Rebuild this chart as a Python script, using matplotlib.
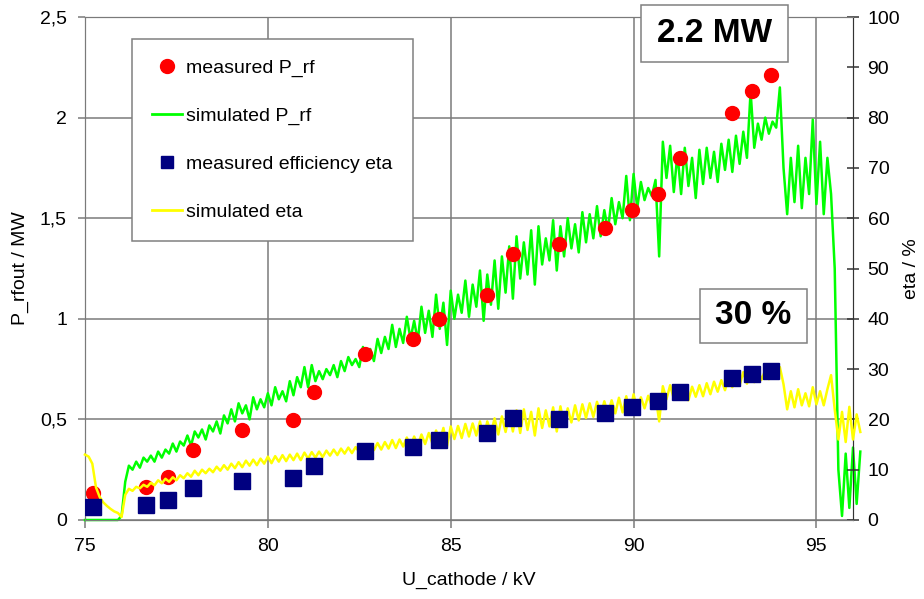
import matplotlib
matplotlib.use("Agg")
import matplotlib.pyplot as plt
import numpy as np
from matplotlib.lines import Line2D
from matplotlib.patches import Rectangle

plt.rcParams['font.family'] = ['Liberation Sans', 'DejaVu Sans']

# measured points (kV, MW) and (kV, %)
meas_kv = [75.22, 76.67, 77.27, 77.95, 79.29, 80.68, 81.26, 82.65, 83.96, 84.67,
           85.98, 86.69, 87.95, 89.23, 89.97, 90.66, 91.26, 92.68, 93.25, 93.77]
meas_prf = [0.134, 0.164, 0.214, 0.348, 0.448, 0.497, 0.637, 0.826, 0.90, 1.00,
            1.12, 1.32, 1.37, 1.45, 1.54, 1.62, 1.80, 2.025, 2.13, 2.21]
meas_eta = [2.6, 3.0, 4.0, 6.4, 7.8, 8.3, 10.7, 13.7, 14.5, 15.9,
            17.3, 20.3, 20.1, 21.3, 22.5, 23.7, 25.4, 28.2, 29.0, 29.6]

# simulated curves, sampled every 0.1 kV from 75.0 kV
sim_start, sim_step = 75.0, 0.1
sim_prf = [
    0, 0, 0, 0, 0, 0, 0, 0, 0, 0,
    0.02, 0.19, 0.27, 0.25, 0.29, 0.26, 0.31, 0.29, 0.32, 0.29,
    0.34, 0.31, 0.35, 0.33, 0.38, 0.34, 0.39, 0.37, 0.42, 0.37,
    0.44, 0.41, 0.45, 0.40, 0.47, 0.44, 0.49, 0.43, 0.52, 0.48,
    0.55, 0.49, 0.58, 0.53, 0.57, 0.50, 0.61, 0.55, 0.60, 0.56,
    0.63, 0.57, 0.66, 0.60, 0.64, 0.59, 0.69, 0.62, 0.71, 0.66,
    0.76, 0.66, 0.77, 0.69, 0.74, 0.70, 0.75, 0.72, 0.77, 0.71,
    0.79, 0.74, 0.81, 0.77, 0.80, 0.76, 0.86, 0.80, 0.85, 0.79,
    0.90, 0.83, 0.91, 0.85, 0.97, 0.86, 0.95, 0.88, 1.01, 0.90,
    0.99, 0.89, 1.06, 0.93, 1.04, 0.91, 1.12, 0.95, 1.08, 0.87,
    1.14, 1.00, 1.12, 1.03, 1.19, 1.01, 1.17, 1.06, 1.24, 0.99,
    1.22, 1.07, 1.29, 1.05, 1.31, 1.13, 1.36, 1.10, 1.41, 1.20,
    1.38, 1.22, 1.44, 1.17, 1.46, 1.27, 1.40, 1.29, 1.49, 1.24,
    1.46, 1.31, 1.50, 1.35, 1.47, 1.33, 1.53, 1.38, 1.52, 1.40,
    1.56, 1.41, 1.54, 1.44, 1.60, 1.47, 1.58, 1.50, 1.71, 1.49,
    1.72, 1.55, 1.68, 1.59, 1.65, 1.61, 1.69, 1.31, 1.88, 1.70,
    1.86, 1.63, 1.82, 1.62, 1.85, 1.66, 1.80, 1.60, 1.84, 1.67,
    1.85, 1.70, 1.83, 1.68, 1.87, 1.74, 1.89, 1.73, 1.91, 1.77,
    1.93, 1.80, 2.13, 1.85, 1.97, 1.89, 2.00, 1.92, 1.98, 1.95,
    2.15, 1.75, 1.52, 1.80, 1.58, 1.86, 1.55, 1.80, 1.62, 1.99,
    1.57, 1.88, 1.52, 1.80, 1.62, 1.25, 0.25, 0.02, 0.33, 0.06,
    0.36, 0.08, 0.34,
]
sim_eta = [
    13.0, 12.6, 11.2, 6.5, 4.6, 3.5, 2.8, 2.2, 1.7, 1.4,
    0.6, 5.0, 6.2, 5.8, 6.6, 6.3, 7.0, 6.6, 7.4, 6.9,
    7.9, 7.3, 8.2, 7.6, 8.5, 7.9, 8.9, 8.3, 9.3, 8.6,
    9.8, 8.9, 10.0, 9.3, 10.2, 9.5, 10.6, 9.8, 10.9, 10.0,
    11.2, 10.3, 11.5, 10.5, 11.8, 10.8, 12.0, 10.9, 12.2, 11.2,
    12.6, 11.3, 12.7, 11.6, 12.9, 11.7, 13.0, 11.9, 13.2, 11.9,
    13.4, 12.2, 13.5, 12.4, 13.6, 12.5, 13.8, 12.8, 14.0, 12.9,
    14.2, 13.2, 14.4, 13.3, 14.5, 13.5, 14.8, 13.6, 15.0, 13.9,
    15.3, 14.0, 15.5, 14.2, 15.9, 14.3, 16.0, 14.6, 16.4, 14.6,
    16.6, 14.9, 17.0, 15.1, 17.3, 15.2, 17.8, 15.6, 18.3, 14.7,
    18.6, 16.1, 18.7, 16.3, 19.1, 16.6, 19.2, 16.8, 19.6, 16.2,
    19.6, 17.3, 20.2, 17.0, 20.6, 17.5, 21.0, 17.6, 21.8, 17.3,
    22.0, 17.9, 21.5, 16.8, 22.2, 18.3, 21.8, 18.6, 22.4, 17.6,
    22.6, 18.9, 22.2, 19.4, 22.8, 19.8, 23.0, 20.3, 23.2, 20.5,
    23.5, 20.8, 23.6, 21.1, 23.8, 21.2, 24.3, 21.4, 24.6, 21.0,
    25.0, 21.9, 24.4, 22.2, 24.7, 22.6, 24.8, 19.6, 26.6, 24.0,
    26.8, 24.1, 26.4, 24.2, 26.2, 23.8, 26.5, 24.5, 26.8, 24.6,
    27.2, 25.0, 27.5, 25.5, 27.8, 25.8, 28.4, 26.4, 29.0, 26.8,
    29.4, 27.1, 29.6, 27.4, 29.8, 27.9, 29.8, 28.0, 30.0, 28.4,
    30.4, 27.0, 22.0, 25.6, 22.4, 26.0, 22.8, 25.2, 22.6, 26.4,
    23.0, 25.6, 22.8, 26.0, 28.8, 22.0, 16.0, 21.5, 15.5, 22.5,
    16.0, 21.0, 17.5,
]
sim_kv = np.round(sim_start + sim_step * np.arange(len(sim_prf)), 1)

left_ticks = [0, 0.5, 1, 1.5, 2, 2.5]
left_ticklabels = ['0', '0,5', '1', '1,5', '2', '2,5']
right_ticks = [0, 10, 20, 30, 40, 50, 60, 70, 80, 90, 100]
x_ticks = [75, 80, 85, 90, 95]

grid_c = '#7a7a7a'
fs = 14

fig = plt.figure(figsize=(9.24, 5.99), dpi=100)
ax = fig.add_axes([85 / 924, 1 - 520 / 599, (853 - 85) / 924, (520 - 17) / 599])
ax2 = ax.twinx()

ax.plot(sim_kv, sim_prf, color='#00ff00', lw=1.8, clip_on=False, zorder=3)
ax.plot(meas_kv, meas_prf, 'o', color='#ff0000', ms=10, mec='#ff0000', zorder=4)
ax2.plot(sim_kv, sim_eta, color='#ffff00', lw=1.8, clip_on=False, zorder=3)
ax2.plot(meas_kv, meas_eta, 's', color='#000080', ms=11, mec='#000080', zorder=4)

ax.set_xlim(75, 96)
ax.set_ylim(0, 2.5)
ax2.set_ylim(0, 100)

ax.set_xticks(x_ticks)
ax.set_yticks(left_ticks)
ax.set_yticklabels(left_ticklabels)
ax2.set_yticks(right_ticks)

ax.grid(True, color=grid_c, lw=1.1)
ax.set_axisbelow(True)
for s in ax.spines.values():
    s.set_color(grid_c)
for s in ax2.spines.values():
    s.set_color(grid_c)
ax2.spines['right'].set_color('#333333')

ax.tick_params(axis='x', direction='out', length=6, width=1.1, color=grid_c,
               labelsize=fs, pad=7)
ax.tick_params(axis='y', direction='out', length=5, width=1.1, color=grid_c,
               labelsize=fs, pad=8)
ax2.tick_params(axis='y', direction='inout', length=9, width=1.1, color='#333333',
                labelsize=fs, pad=6)

ax.set_xlabel('U_cathode / kV', fontsize=fs, labelpad=12)
ax.set_ylabel('P_rfout / MW', fontsize=fs, labelpad=8)
ax2.set_ylabel('eta / %', fontsize=fs, labelpad=2)

handles = [
    Line2D([], [], marker='o', ls='none', color='#ff0000', ms=10),
    Line2D([], [], color='#00ff00', lw=2),
    Line2D([], [], marker='s', ls='none', color='#000080', ms=9),
    Line2D([], [], color='#ffff00', lw=2),
]
labels = ['measured P_rf', 'simulated P_rf', 'measured efficiency eta', 'simulated eta']
leg = ax2.legend(handles, labels, loc='upper left',
                 bbox_to_anchor=(132 / 924, 1 - 39 / 599), bbox_transform=fig.transFigure,
                 borderaxespad=0, fontsize=fs, labelspacing=1.55, borderpad=1.05,
                 handlelength=1.5, handletextpad=0.25, fancybox=False, framealpha=1,
                 edgecolor='#808080')
leg.get_frame().set_linewidth(1.1)
leg.set_zorder(10)

# text boxes
for (x0, y0, x1, y1, txt) in [(641, 5, 788, 62, '2.2 MW'), (700, 289, 807, 343, '30 %')]:
    fig.patches.append(Rectangle((x0 / 924, 1 - y1 / 599), (x1 - x0) / 924, (y1 - y0) / 599,
                                 transform=fig.transFigure, facecolor='white',
                                 edgecolor='#808080', lw=1.1, zorder=20))
    fig.text((x0 + x1) / 2 / 924, 1 - (y0 + y1) / 2 / 599, txt, ha='center', va='center',
             fontsize=24, fontweight='bold', zorder=21)

fig.savefig('out.png', dpi=100)
